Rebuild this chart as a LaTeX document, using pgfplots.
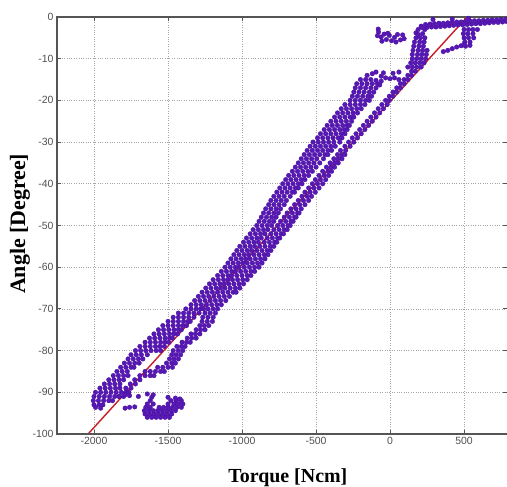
\documentclass[border=0pt]{standalone}
\usepackage{fontspec}
\setmainfont{Liberation Serif}
\newfontfamily\tickfont{Liberation Sans}
\usepackage{pgfplots}
\pgfplotsset{compat=1.18}
\definecolor{pts}{RGB}{88,24,180}
\definecolor{ptsedge}{RGB}{70,14,160}
\definecolor{fitred}{RGB}{200,30,40}
\definecolor{axgray}{RGB}{85,85,85}
\definecolor{tickgray}{RGB}{80,80,80}
\pgfplotsset{dots/.style={only marks, mark=*, mark size=2.3bp, mark options={fill=pts, draw=ptsedge, line width=0.3bp}}}
\begin{document}
\begin{tikzpicture}
\begin{axis}[
  name=ax,
  scale only axis,
  width=450bp, height=417bp,
  xmin=-2250, xmax=790,
  ymin=-100, ymax=0,
  xtick={-2000,-1500,-1000,-500,0,500},
  ytick={-100,-90,-80,-70,-60,-50,-40,-30,-20,-10,0},
  scaled x ticks=false,
  /pgf/number format/assume math mode=true,
  /pgf/number format/1000 sep={},
  tick label style={font=\tickfont\fontsize{10.5}{12}\selectfont, text=tickgray},
  major tick length=4bp,
  tick style={axgray, line width=0.8bp},
  grid=major,
  grid style={dotted, gray!70, line width=0.7bp},
  axis line style={draw=none},
  xlabel={\bfseries\fontsize{20}{22}\selectfont Torque [Ncm]},
  ylabel={\bfseries\fontsize{22}{24}\selectfont Angle [Degree]},
  xlabel style={at={(axis description cs:0.513,-0.1175)}, anchor=base},
  ylabel style={at={(axis description cs:-0.0711,0.504)}, anchor=base, rotate=0},
  clip=false,
]

% main hysteresis band (rows of points, left branch + right branch)
\addplot[dots] coordinates {
(-2000,-93) (-1965,-93) (-1940,-93) (-1990,-93.6) (-1955,-93.8)
(-2005,-92) (-1970,-92) (-1935,-92) (-1900,-92) (-1875,-92)
(-2000,-91) (-1965,-91) (-1930,-91) (-1895,-91) (-1860,-91) (-1830,-91) (-1800,-91)
(-1990,-90) (-1955,-90) (-1920,-90) (-1885,-90) (-1850,-90) (-1815,-90) (-1785,-90) (-1765,-90)
(-1960,-89) (-1925,-89) (-1890,-89) (-1855,-89) (-1825,-89) (-1785,-89) (-1750,-89)
(-1930,-88) (-1895,-88) (-1860,-88) (-1825,-88) (-1755,-88) (-1720,-88)
(-1900,-87) (-1865,-87) (-1830,-87) (-1800,-87) (-1725,-87) (-1690,-87)
(-1870,-86) (-1835,-86) (-1800,-86) (-1770,-86) (-1690,-86) (-1655,-86) (-1620,-86) (-1595,-86)
(-1845,-85) (-1810,-85) (-1775,-85) (-1655,-85) (-1620,-85) (-1585,-85) (-1550,-85) (-1525,-85)
(-1820,-84) (-1785,-84) (-1750,-84) (-1730,-84) (-1570,-84) (-1535,-84) (-1500,-84) (-1470,-84)
(-1795,-83) (-1760,-83) (-1725,-83) (-1695,-83) (-1510,-83) (-1475,-83) (-1450,-83)
(-1770,-82) (-1735,-82) (-1700,-82) (-1670,-82) (-1490,-82) (-1460,-82) (-1430,-82)
(-1750,-81) (-1715,-81) (-1680,-81) (-1640,-81) (-1475,-81) (-1445,-81) (-1415,-81)
(-1720,-80) (-1685,-80) (-1650,-80) (-1615,-80) (-1580,-80) (-1550,-80) (-1465,-80) (-1430,-80) (-1400,-80)
(-1690,-79) (-1655,-79) (-1620,-79) (-1585,-79) (-1555,-79) (-1525,-79) (-1440,-79) (-1410,-79) (-1385,-79)
(-1655,-78) (-1620,-78) (-1585,-78) (-1550,-78) (-1520,-78) (-1495,-78) (-1405,-78) (-1375,-78) (-1350,-78)
(-1625,-77) (-1590,-77) (-1555,-77) (-1520,-77) (-1490,-77) (-1470,-77) (-1370,-77) (-1340,-77) (-1310,-77)
(-1595,-76) (-1560,-76) (-1525,-76) (-1490,-76) (-1460,-76) (-1435,-76) (-1345,-76) (-1315,-76) (-1285,-76)
(-1565,-75) (-1530,-75) (-1495,-75) (-1460,-75) (-1430,-75) (-1410,-75) (-1310,-75) (-1280,-75) (-1250,-75)
(-1535,-74) (-1500,-74) (-1465,-74) (-1430,-74) (-1400,-74) (-1375,-74) (-1285,-74) (-1255,-74) (-1225,-74)
(-1500,-73) (-1465,-73) (-1430,-73) (-1395,-73) (-1365,-73) (-1350,-73) (-1270,-73) (-1235,-73) (-1200,-73)
(-1465,-72) (-1430,-72) (-1395,-72) (-1360,-72) (-1325,-72) (-1265,-72) (-1230,-72) (-1195,-72)
(-1430,-71) (-1395,-71) (-1360,-71) (-1325,-71) (-1290,-71) (-1250,-71) (-1215,-71) (-1180,-71)
(-1380,-70) (-1345,-70) (-1310,-70) (-1280,-70) (-1260,-70) (-1230,-70) (-1195,-70) (-1165,-70)
(-1345,-69) (-1310,-69) (-1275,-69) (-1240,-69) (-1205,-69) (-1170,-69) (-1140,-69)
(-1320,-68) (-1285,-68) (-1250,-68) (-1215,-68) (-1180,-68) (-1145,-68) (-1110,-68)
(-1295,-67) (-1260,-67) (-1225,-67) (-1190,-67) (-1155,-67) (-1120,-67) (-1085,-67)
(-1270,-66) (-1235,-66) (-1200,-66) (-1165,-66) (-1130,-66) (-1095,-66) (-1060,-66) (-1040,-66)
(-1245,-65) (-1210,-65) (-1175,-65) (-1145,-65) (-1115,-65) (-1080,-65) (-1045,-65) (-1015,-65)
(-1220,-64) (-1185,-64) (-1150,-64) (-1120,-64) (-1090,-64) (-1055,-64) (-1020,-64) (-990,-64)
(-1195,-63) (-1160,-63) (-1125,-63) (-1095,-63) (-1065,-63) (-1030,-63) (-995,-63) (-965,-63)
(-1165,-62) (-1130,-62) (-1095,-62) (-1070,-62) (-1035,-62) (-1000,-62) (-965,-62) (-940,-62)
(-1140,-61) (-1105,-61) (-1070,-61) (-1045,-61) (-1010,-61) (-975,-61) (-940,-61) (-915,-61)
(-1115,-60) (-1080,-60) (-1045,-60) (-1020,-60) (-985,-60) (-950,-60) (-915,-60) (-885,-60)
(-1095,-59) (-1060,-59) (-1025,-59) (-995,-59) (-965,-59) (-930,-59) (-895,-59) (-865,-59)
(-1075,-58) (-1040,-58) (-1005,-58) (-975,-58) (-945,-58) (-910,-58) (-875,-58) (-845,-58)
(-1055,-57) (-1020,-57) (-985,-57) (-955,-57) (-920,-57) (-885,-57) (-850,-57) (-825,-57)
(-1035,-56) (-1000,-56) (-965,-56) (-935,-56) (-900,-56) (-865,-56) (-830,-56) (-805,-56)
(-1015,-55) (-980,-55) (-945,-55) (-915,-55) (-880,-55) (-845,-55) (-810,-55) (-785,-55)
(-990,-54) (-955,-54) (-920,-54) (-890,-54) (-850,-54) (-815,-54) (-780,-54) (-765,-54)
(-970,-53) (-935,-53) (-900,-53) (-870,-53) (-830,-53) (-795,-53) (-760,-53) (-745,-53)
(-945,-52) (-910,-52) (-875,-52) (-845,-52) (-805,-52) (-770,-52) (-735,-52) (-720,-52)
(-925,-51) (-890,-51) (-855,-51) (-825,-51) (-785,-51) (-750,-51) (-715,-51) (-695,-51)
(-900,-50) (-865,-50) (-830,-50) (-800,-50) (-760,-50) (-725,-50) (-690,-50) (-675,-50)
(-885,-49) (-850,-49) (-815,-49) (-785,-49) (-740,-49) (-705,-49) (-670,-49) (-655,-49)
(-870,-48) (-835,-48) (-800,-48) (-770,-48) (-715,-48) (-680,-48) (-645,-48) (-635,-48)
(-855,-47) (-820,-47) (-785,-47) (-755,-47) (-695,-47) (-660,-47) (-625,-47) (-615,-47)
(-840,-46) (-805,-46) (-770,-46) (-740,-46) (-670,-46) (-635,-46) (-600,-46)
(-820,-45) (-785,-45) (-750,-45) (-715,-45) (-645,-45) (-610,-45) (-575,-45)
(-805,-44) (-770,-44) (-735,-44) (-700,-44) (-620,-44) (-585,-44) (-550,-44)
(-785,-43) (-750,-43) (-715,-43) (-675,-43) (-595,-43) (-560,-43) (-530,-43)
(-765,-42) (-730,-42) (-695,-42) (-660,-42) (-645,-42) (-575,-42) (-540,-42) (-505,-42)
(-745,-41) (-710,-41) (-675,-41) (-640,-41) (-620,-41) (-550,-41) (-515,-41) (-480,-41)
(-725,-40) (-690,-40) (-655,-40) (-620,-40) (-595,-40) (-525,-40) (-490,-40) (-455,-40)
(-705,-39) (-670,-39) (-635,-39) (-600,-39) (-575,-39) (-505,-39) (-470,-39) (-435,-39)
(-685,-38) (-650,-38) (-615,-38) (-580,-38) (-550,-38) (-480,-38) (-445,-38) (-415,-38)
(-660,-37) (-625,-37) (-590,-37) (-555,-37) (-525,-37) (-455,-37) (-420,-37) (-395,-37)
(-640,-36) (-605,-36) (-570,-36) (-535,-36) (-500,-36) (-430,-36) (-400,-36) (-375,-36)
(-620,-35) (-585,-35) (-550,-35) (-515,-35) (-475,-35) (-405,-35) (-375,-35) (-350,-35)
(-600,-34) (-565,-34) (-530,-34) (-495,-34) (-450,-34) (-380,-34) (-350,-34) (-325,-34)
(-580,-33) (-545,-33) (-510,-33) (-475,-33) (-440,-33) (-420,-33) (-355,-33) (-325,-33) (-305,-33)
(-560,-32) (-525,-32) (-490,-32) (-455,-32) (-420,-32) (-395,-32) (-335,-32) (-300,-32)
(-540,-31) (-505,-31) (-470,-31) (-435,-31) (-400,-31) (-370,-31) (-305,-31) (-270,-31)
(-520,-30) (-485,-30) (-450,-30) (-415,-30) (-380,-30) (-340,-30) (-280,-30) (-245,-30)
(-490,-29) (-455,-29) (-420,-29) (-385,-29) (-350,-29) (-325,-29) (-255,-29) (-220,-29)
(-470,-28) (-435,-28) (-400,-28) (-365,-28) (-330,-28) (-305,-28) (-230,-28) (-195,-28)
(-445,-27) (-410,-27) (-375,-27) (-340,-27) (-310,-27) (-290,-27) (-205,-27) (-170,-27)
(-425,-26) (-390,-26) (-355,-26) (-320,-26) (-290,-26) (-275,-26) (-180,-26) (-145,-26)
(-400,-25) (-365,-25) (-330,-25) (-295,-25) (-260,-25) (-155,-25) (-120,-25)
(-375,-24) (-340,-24) (-305,-24) (-270,-24) (-245,-24) (-130,-24) (-95,-24)
(-355,-23) (-320,-23) (-285,-23) (-250,-23) (-220,-23) (-105,-23) (-70,-23)
(-330,-22) (-295,-22) (-260,-22) (-225,-22) (-195,-22) (-80,-22) (-45,-22)
(-305,-21) (-270,-21) (-235,-21) (-200,-21) (-170,-21) (-55,-21) (-20,-21)
(-270,-20) (-235,-20) (-200,-20) (-165,-20) (-140,-20) (-30,-20) (-5,-20)
(-255,-19) (-220,-19) (-185,-19) (-150,-19) (-125,-19) (-5,-19) (20,-19)
(-245,-18) (-210,-18) (-175,-18) (-140,-18) (-110,-18) (20,-18) (45,-18)
(-235,-17) (-200,-17) (-165,-17) (-130,-17) (-95,-17) (45,-17) (70,-17)
(-225,-16) (-190,-16) (-155,-16) (-120,-16) (-85,-16) (-70,-16.3) (70,-16) (95,-16)
(-200,-15) (-165,-15) (-130,-15) (-95,-15.2) (-60,-15.4) (95,-15) (120,-15)
(-155,-14) (-120,-13.6) (-60,-14.2) (-30,-14.6) (0,-14.8) (30,-14.6) (60,-15) (120,-14) (145,-14)
(-95,-13.2) (-45,-13.4) (20,-13.5) (60,-13.2) (145,-13) (170,-13)
(120,-12) (150,-12) (180,-12) (210,-12)
(140,-11) (170,-11) (200,-11) (230,-11)
(150,-10) (180,-10) (210,-10) (240,-10)
(150,-9) (185,-9) (215,-9) (245,-9)
(155,-8) (190,-8) (220,-8) (250,-8)
(160,-7) (195,-7) (225,-7)
(165,-6) (200,-6) (230,-6)
(175,-5) (205,-5) (235,-5)
(175,-3.8) (190,-4.2) (220,-4)
(190,-3) (210,-2.2) (235,-3)
};

% top plateau and small clusters near zero angle
\addplot[dots] coordinates {
(220,-2.6) (250,-2.5) (280,-2.4) (310,-2.4) (340,-2.3) (370,-2.2) (400,-2.1) (430,-2.0)
(460,-1.9) (490,-1.9) (520,-1.8) (550,-1.7) (580,-1.6) (610,-1.6) (640,-1.5) (670,-1.4)
(700,-1.3) (730,-1.3) (760,-1.2) (790,-1.1)
(240,-1.8) (270,-1.7) (300,-1.6) (330,-1.5) (360,-1.5) (390,-1.4) (420,-1.3) (450,-1.2)
(480,-1.2) (510,-1.1) (540,-1.0) (570,-0.9) (600,-0.9) (630,-0.8) (660,-0.8) (690,-0.7)
(720,-0.7) (750,-0.6) (780,-0.6)
(290,-0.6) (420,-0.5) (530,-0.3)
(500,-3) (530,-3) (560,-3) (590,-3)
(495,-4) (525,-4) (560,-4)
(500,-5) (530,-5) (565,-5)
(505,-6) (540,-6)
(510,-7) (540,-6.8)
(360,-8.3) (390,-8.0) (420,-7.6) (450,-7.2) (480,-6.9) (500,-6.6)
(-80,-2.9) (-78,-3.6) (-85,-4.5) (-60,-4.8) (-40,-4.1) (-25,-5.4) (-5,-4.4) (10,-5.7)
(30,-4.9) (50,-4.2) (70,-5.5) (95,-5.2) (-55,-5.8) (40,-6.0) (85,-4.3) (-15,-3.9)
};

% scattered cluster below the band
\addplot[dots] coordinates {
(-1640,-96) (-1610,-96) (-1580,-96) (-1550,-96) (-1520,-96) (-1490,-96)
(-1655,-95.2) (-1625,-95.2) (-1595,-95.2) (-1565,-95.2) (-1535,-95.2) (-1505,-95.2) (-1475,-95.2)
(-1660,-94.4) (-1630,-94.4) (-1600,-94.4) (-1570,-94.4) (-1540,-94.4) (-1510,-94.4) (-1480,-94.4) (-1450,-94.4)
(-1650,-93.6) (-1620,-93.6) (-1560,-93.6) (-1530,-93.6) (-1500,-93.6) (-1470,-93.6) (-1440,-93.6) (-1410,-93.6)
(-1640,-92.8) (-1600,-92.8) (-1500,-92.8) (-1460,-92.8) (-1430,-92.8) (-1400,-92.8)
(-1620,-92) (-1480,-92) (-1445,-92) (-1410,-92)
(-1610,-91.2) (-1500,-91.2) (-1450,-91.4) (-1420,-91.6)
(-1640,-90.4) (-1600,-90.6)
(-1790,-93.8) (-1760,-93.6) (-1725,-93.5)
(-1830,-91) (-1790,-90.6) (-1760,-90.8) (-1700,-91)
};

% linear fit
\addplot[fitred, line width=1.4bp] coordinates {(-2040,-100) (520,0)};

\draw[axgray, line width=1.4bp] (rel axis cs:1,1) -- (rel axis cs:0,1) -- (rel axis cs:0,0) -- (rel axis cs:1,0);
\end{axis}
\pgfresetboundingbox
\path[use as bounding box] ([xshift=-57bp,yshift=-53bp]ax.south west) rectangle ([yshift=17bp]ax.north east);
\end{tikzpicture}
\end{document}
